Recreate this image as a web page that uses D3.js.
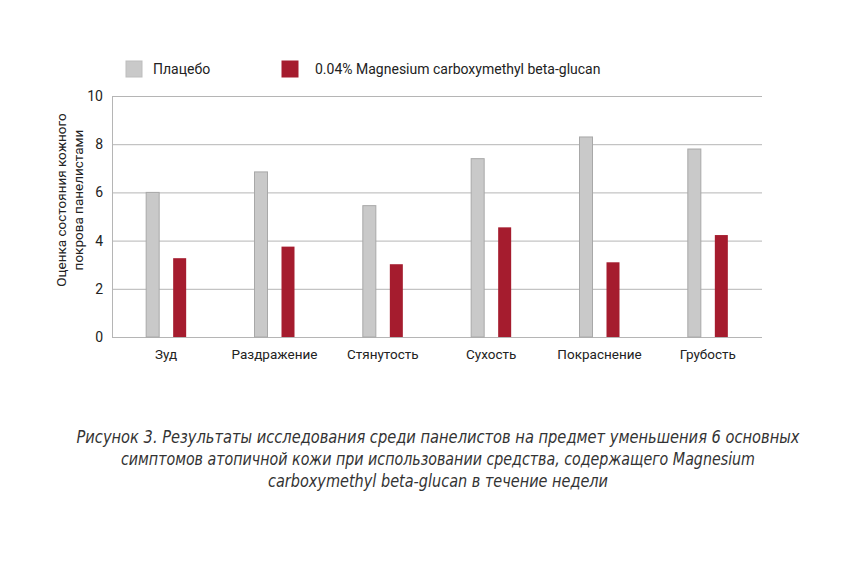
<!DOCTYPE html>
<html><head><meta charset="utf-8">
<script src="https://cdn.jsdelivr.net/npm/d3@7/dist/d3.min.js"></script>
<style>body{margin:0;background:#fff}svg{display:block}</style>
</head><body>
<svg id="c" width="860" height="580"></svg>
<script>
const categories = ["Зуд","Раздражение","Стянутость","Сухость","Покраснение","Грубость"];
const seriesNames = ["Плацебо","0.04% Magnesium carboxymethyl beta-glucan"];
const placebo = [6.0, 6.85, 5.45, 7.4, 8.3, 7.8];
const treated = [3.27, 3.75, 3.02, 4.55, 3.1, 4.23];
const yTicks = [0,2,4,6,8,10];
const yTitle = ["Оценка состояния кожного","покрова панелистами"];
const caption = ["Рисунок 3. Результаты исследования среди панелистов на предмет уменьшения 6 основных",
 "симптомов атопичной кожи при использовании средства, содержащего Magnesium",
 "carboxymethyl beta-glucan в течение недели"];

const colors = ["#c9c9c9","#a51c2e"];
const strokes = ["#a8a8a8","#a51c2e"];
const svg = d3.select("#c");
const L=112,R=762,T=96,B=337;
const x = d3.scaleBand().domain(categories).range([L,R]);
const y = d3.scaleLinear().domain([0,10]).range([B,T]);
const font = "Roboto, 'Noto Sans', sans-serif";

// grid
svg.append("g").selectAll("line").data(yTicks).join("line")
 .attr("x1",L).attr("x2",R).attr("y1",d=>y(d)+0.5).attr("y2",d=>y(d)+0.5)
 .attr("stroke","#b5b5b5").attr("stroke-width",1);
svg.append("line").attr("x1",L+0.5).attr("x2",L+0.5).attr("y1",T).attr("y2",B)
 .attr("stroke","#b5b5b5");

// y labels
svg.append("g").selectAll("text").data(yTicks).join("text")
 .attr("x",103).attr("y",d=>y(d)+5).attr("text-anchor","end")
 .attr("font-family",font).attr("font-size",14).attr("fill","#222").text(d=>d);

// y title
const yt = svg.append("text").attr("transform","translate(0,200) rotate(-90)")
 .attr("font-family",font).attr("font-size",13.5).attr("fill","#222").attr("text-anchor","middle");
yTitle.forEach((t,i)=>yt.append("tspan").attr("x",0).attr("y",66+i*16.5).text(t));

// bars
const bw = 13, off = 13.5;
const data = [placebo, treated];
data.forEach((vals,s)=>{
  svg.append("g").selectAll("rect").data(categories).join("rect")
   .attr("x",(d,i)=>x(d)+x.bandwidth()/2 + (s===0?-off:off) - bw/2)
   .attr("y",(d,i)=>y(vals[i]))
   .attr("width",bw).attr("height",(d,i)=>B-y(vals[i]))
   .attr("fill",colors[s]).attr("stroke",strokes[s]).attr("stroke-width",s===0?1:0);
});

// x labels
svg.append("g").selectAll("text").data(categories).join("text")
 .attr("x",d=>x(d)+x.bandwidth()/2).attr("y",359).attr("text-anchor","middle")
 .attr("font-family",font).attr("font-size",13.5).attr("fill","#222").text(d=>d);

// legend
const lx=[126,282];
seriesNames.forEach((n,i)=>{
  svg.append("rect").attr("x",lx[i]).attr("y",61).attr("width",16).attr("height",16)
   .attr("fill",colors[i]).attr("stroke",i===0?"#bdbdbd":colors[i]);
  svg.append("text").attr("x",lx[i]+(i===0?27:33)).attr("y",74).attr("font-family",font)
   .attr("font-size",14).attr("fill","#222").text(n);
});

// caption
const capW=[723,634,340];
caption.forEach((t,i)=>{
  svg.append("text").attr("x",438).attr("y",443+i*22).attr("text-anchor","middle")
   .attr("font-family","'Liberation Sans Narrow','DejaVu Sans Condensed',sans-serif")
   .attr("font-style","italic").attr("font-size",17.5).attr("fill","#333")
   .attr("textLength",capW[i]).attr("lengthAdjust","spacingAndGlyphs").text(t);
});
</script>
</body></html>
